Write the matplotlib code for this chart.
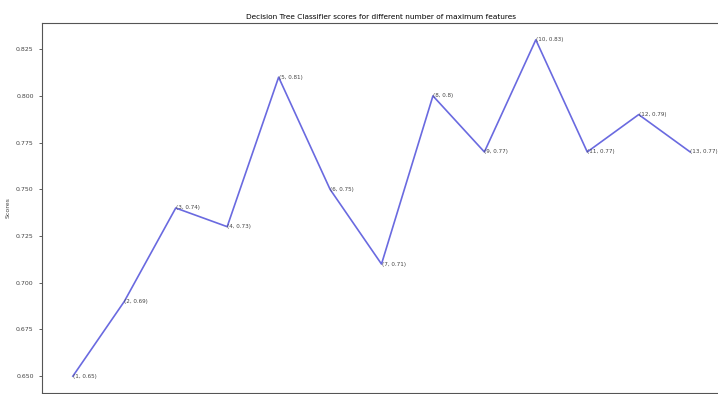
import matplotlib
matplotlib.use("Agg")
import matplotlib.pyplot as plt

max_features = [1, 2, 3, 4, 5, 6, 7, 8, 9, 10, 11, 12, 13]
scores = [0.65, 0.69, 0.74, 0.73, 0.81, 0.75, 0.71, 0.80, 0.77, 0.83, 0.77, 0.79, 0.77]
y_ticks = [0.650, 0.675, 0.700, 0.725, 0.750, 0.775, 0.800, 0.825]

fig = plt.figure(figsize=(7.18, 3.94), dpi=100)
ax = fig.add_axes([42 / 718, 1 / 394, 679 / 718, 370 / 394])

ax.plot(max_features, scores, color="#6a6ae0", linewidth=1.2)
for x, y in zip(max_features, scores):
    ax.text(x, y, f"({x}, {y:g})", fontsize=4.1, color="#444444",
            va="center", ha="left")

ax.set_yticks(y_ticks)
ax.set_yticklabels([f"{t:.3f}" for t in y_ticks])
ax.tick_params(axis="y", labelsize=4.5, length=2.5, width=0.6, colors="#444444")
ax.set_xticks(max_features)
ax.tick_params(axis="x", labelbottom=False, length=2.5, width=0.6)
ax.set_ylabel("Scores", fontsize=4.5, color="#444444")
ax.set_title("Decision Tree Classifier scores for different number of maximum features",
             fontsize=5.3, pad=3)
for s in ax.spines.values():
    s.set_linewidth(0.8)
    s.set_color("#555555")

fig.savefig("out.png", dpi=100)
